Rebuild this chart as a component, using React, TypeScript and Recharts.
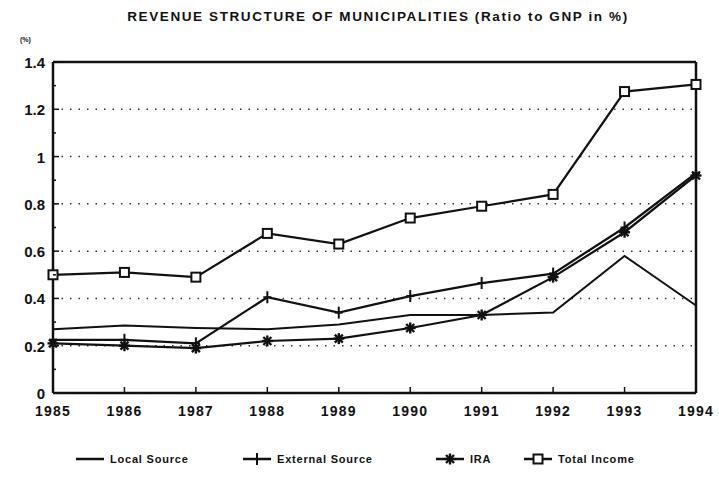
import React from "react";
import {
  LineChart,
  Line,
  XAxis,
  YAxis,
  CartesianGrid,
  Legend,
  ReferenceLine,
} from "recharts";

const years = [1985, 1986, 1987, 1988, 1989, 1990, 1991, 1992, 1993, 1994];
const localSource = [0.27, 0.285, 0.275, 0.27, 0.29, 0.33, 0.33, 0.34, 0.58, 0.37];
const externalSource = [0.225, 0.225, 0.21, 0.405, 0.34, 0.41, 0.465, 0.505, 0.7, 0.93];
const ira = [0.21, 0.2, 0.19, 0.22, 0.23, 0.275, 0.33, 0.49, 0.68, 0.92];
const totalIncome = [0.5, 0.51, 0.49, 0.675, 0.63, 0.74, 0.79, 0.84, 1.275, 1.305];

const yTicks = [0, 0.1, 0.2, 0.3, 0.4, 0.5, 0.6, 0.7, 0.8, 0.9, 1, 1.1, 1.2, 1.3, 1.4];
const gridValues = [0.2, 0.4, 0.6, 0.8, 1, 1.2];
const yMax = 1.4;

const data = years.map((year, i) => ({
  year,
  local: localSource[i],
  external: externalSource[i],
  ira: ira[i],
  total: totalIncome[i],
}));

const FONT = "'Liberation Sans', Arial, sans-serif";
const INK = "#111";

const PlusMark = ({ cx, cy }: { cx?: number; cy?: number }) => {
  if (cx == null || cy == null) return null;
  return (
    <g stroke={INK} strokeWidth={2}>
      <line x1={cx} y1={cy - 6} x2={cx} y2={cy + 6} />
      <line x1={cx - 4} y1={cy} x2={cx + 4} y2={cy} />
    </g>
  );
};

const StarMark = ({ cx, cy }: { cx?: number; cy?: number }) => {
  if (cx == null || cy == null) return null;
  const r = 5.5;
  const d = 4;
  return (
    <g stroke={INK} strokeWidth={2.4}>
      <line x1={cx} y1={cy - r} x2={cx} y2={cy + r} />
      <line x1={cx - r} y1={cy} x2={cx + r} y2={cy} />
      <line x1={cx - d} y1={cy - d} x2={cx + d} y2={cy + d} />
      <line x1={cx - d} y1={cy + d} x2={cx + d} y2={cy - d} />
    </g>
  );
};

const SquareMark = ({ cx, cy }: { cx?: number; cy?: number }) => {
  if (cx == null || cy == null) return null;
  return (
    <rect x={cx - 4.5} y={cy - 4.5} width={9} height={9} fill="#fff" stroke={INK} strokeWidth={2} />
  );
};

const YTick = ({ x, y, payload }: { x?: number; y?: number; payload?: { value: number } }) => {
  if (x == null || y == null || !payload) return null;
  const v = payload.value;
  const major = Math.round(v * 10) % 2 === 0;
  const axisX = x + 8;
  return (
    <g>
      <line x1={axisX} y1={y} x2={axisX + (major ? 6 : 3)} y2={y} stroke={INK} strokeWidth={1.5} />
      {major && (
        <text
          x={x}
          y={y}
          dy="0.4em"
          textAnchor="end"
          fontFamily={FONT}
          fontWeight="bold"
          fontSize={15}
          fill={INK}
        >
          {String(v)}
        </text>
      )}
    </g>
  );
};

const XTick = ({ x, y, payload }: { x?: number; y?: number; payload?: { value: number } }) => {
  if (x == null || y == null || !payload) return null;
  const axisY = y - 13;
  return (
    <g>
      <line x1={x} y1={axisY} x2={x} y2={axisY - 6} stroke={INK} strokeWidth={1.5} />
      <text
        x={x}
        y={y}
        dy="0.71em"
        textAnchor="middle"
        fontFamily={FONT}
        fontWeight="bold"
        fontSize={14}
        letterSpacing={1.2}
        fill={INK}
      >
        {payload.value}
      </text>
    </g>
  );
};

const legendItems = [
  { name: "Local Source", mark: null, width: 167 },
  { name: "External Source", mark: PlusMark, width: 193 },
  { name: "IRA", mark: StarMark, width: 88 },
  { name: "Total Income", mark: SquareMark, width: 140 },
];

const LegendContent = () => (
  <div style={{ display: "flex", paddingLeft: 75, fontFamily: FONT }}>
    {legendItems.map((item) => {
      const Mark = item.mark;
      return (
        <div
          key={item.name}
          style={{ width: item.width, display: "flex", alignItems: "center" }}
        >
          <svg width={30} height={14}>
            <line x1={1} y1={7} x2={29} y2={7} stroke={INK} strokeWidth={2.5} />
            {Mark && <Mark cx={15} cy={7} />}
          </svg>
          <span
            style={{
              marginLeft: 5,
              fontSize: 11,
              fontWeight: "bold",
              letterSpacing: 0.8,
              color: INK,
            }}
          >
            {item.name}
          </span>
        </div>
      );
    })}
  </div>
);

export default function App() {
  return (
    <div style={{ position: "absolute", left: 0, top: 0, width: 719, height: 480, background: "#fff" }}>
      <div
        style={{
          position: "absolute",
          left: 0,
          top: 9,
          width: 756,
          textAlign: "center",
          fontFamily: FONT,
          fontWeight: "bold",
          fontSize: 13.5,
          letterSpacing: 1.6,
          color: INK,
        }}
      >
        REVENUE STRUCTURE OF MUNICIPALITIES (Ratio to GNP in %)
      </div>
      <div
        style={{
          position: "absolute",
          left: 20,
          top: 36,
          fontFamily: FONT,
          fontWeight: "bold",
          fontSize: 7,
          color: INK,
        }}
      >
        (%)
      </div>
      <LineChart
        width={719}
        height={480}
        data={data}
        margin={{ top: 62, right: 23, left: 0, bottom: 57 }}
      >
        <CartesianGrid
          vertical={false}
          horizontalValues={gridValues}
          stroke="#333"
          strokeDasharray="1.5 7"
          strokeWidth={1.5}
        />
        <XAxis
          dataKey="year"
          type="number"
          domain={[years[0], years[years.length - 1]]}
          ticks={years}
          height={30}
          tickSize={0}
          tickMargin={13}
          tick={<XTick />}
          axisLine={{ stroke: INK, strokeWidth: 2.5 }}
          tickLine={false}
        />
        <YAxis
          type="number"
          domain={[0, yMax]}
          ticks={yTicks}
          width={53}
          tickSize={0}
          tickMargin={8}
          tick={<YTick />}
          interval={0}
          axisLine={{ stroke: INK, strokeWidth: 2.5 }}
          tickLine={false}
        />
        <ReferenceLine y={yMax} stroke={INK} strokeWidth={2.5} />
        <ReferenceLine x={years[years.length - 1]} stroke={INK} strokeWidth={2.5} />
        <Legend
          verticalAlign="middle"
          align="center"
          content={<LegendContent />}
          wrapperStyle={{ top: 452, left: 0, width: 719 }}
        />
        <Line
          dataKey="local"
          name="Local Source"
          stroke={INK}
          strokeWidth={2}
          dot={false}
          isAnimationActive={false}
        />
        <Line
          dataKey="external"
          name="External Source"
          stroke={INK}
          strokeWidth={2.2}
          dot={(p: any) => <PlusMark key={`e${p.index}`} cx={p.cx} cy={p.cy} />}
          isAnimationActive={false}
        />
        <Line
          dataKey="ira"
          name="IRA"
          stroke={INK}
          strokeWidth={2.2}
          dot={(p: any) => <StarMark key={`i${p.index}`} cx={p.cx} cy={p.cy} />}
          isAnimationActive={false}
        />
        <Line
          dataKey="total"
          name="Total Income"
          stroke={INK}
          strokeWidth={2.2}
          dot={(p: any) => <SquareMark key={`t${p.index}`} cx={p.cx} cy={p.cy} />}
          isAnimationActive={false}
        />
      </LineChart>
    </div>
  );
}
